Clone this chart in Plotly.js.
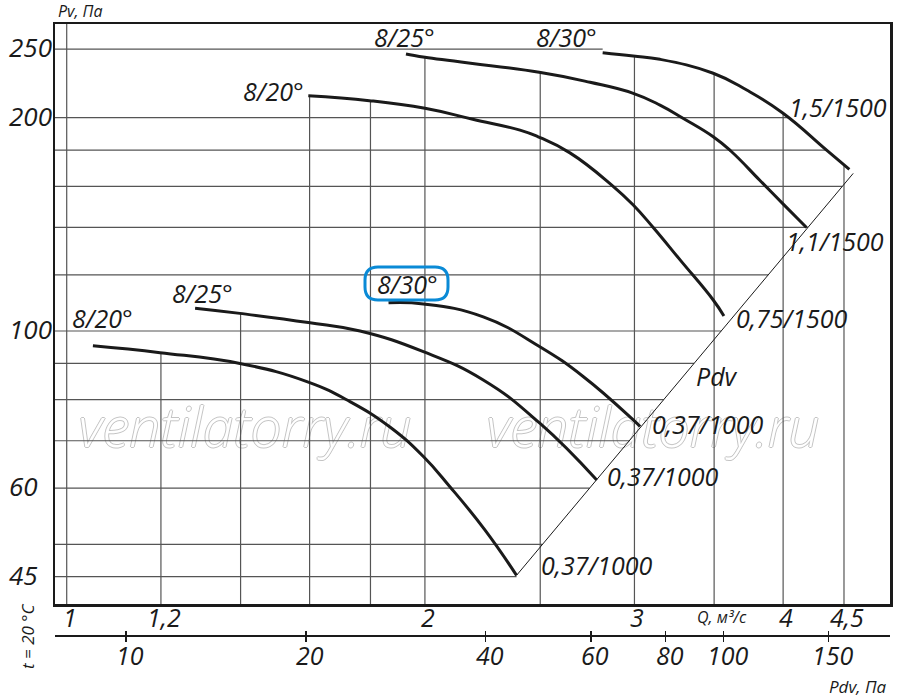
<!DOCTYPE html>
<html>
<head>
<meta charset="utf-8">
<script src="https://cdn.plot.ly/plotly-3.0.1.min.js"></script>
<style>html,body{margin:0;padding:0;background:#fff;}#chart{width:900px;height:697px;}</style>
</head>
<body>
<div id="chart"></div>
<script>
// ---------- data ----------
// upper group (1500 rpm)
const u20Q  = [1.596, 1.796, 2.0, 2.194, 2.404, 2.49, 2.648, 2.871, 2.993, 3.111, 3.277, 3.494, 3.567];
const u20Pv = [214.8, 211.4, 206.2, 199.0, 192.1, 188.0, 178.4, 160.7, 150.6, 140, 126.0, 110.6, 105.0];
const u25Q  = [1.928, 2.0, 2.495, 2.753, 2.993, 3.152, 3.298, 3.494, 3.615, 3.825, 3.997, 4.185];
const u25Pv = [246.0, 243.4, 231.8, 224.4, 216.5, 208.4, 199.5, 188.0, 179.5, 163.1, 151.3, 140];
const u30Q  = [2.821, 2.993, 3.152, 3.494, 3.728, 3.997, 4.351, 4.547];
const u30Pv = [247.1, 244.4, 241.8, 231.1, 218.8, 203.1, 180, 169.1];
// lower group (1000 rpm)
const l20Q  = [1.052, 1.198, 1.398, 1.596, 1.730, 1.869, 1.994, 2.099, 2.246, 2.388];
const l20Pv = [95.3, 93.2, 90.0, 84.7, 79.5, 73.2, 66.5, 60.3, 52.4, 45.2];
const l25Q  = [1.282, 1.398, 1.596, 1.764, 1.994, 2.239, 2.498, 2.789];
const l25Pv = [107.7, 105.9, 102.8, 100, 93.5, 85.3, 74.1, 61.6];
const l30Q  = [1.864, 1.994, 2.239, 2.498, 2.718, 2.993, 3.033];
const l30Pv = [109.6, 109.2, 104.7, 95.0, 86.2, 74.9, 73.3];
// dynamic pressure line Pdv
const diagQ  = [2.388, 4.581];
const diagPv = [45.2, 166.9];

// grid and tick values
const gridQ  = [1, 1.2, 1.4, 1.6, 1.8, 2, 2.5, 3, 3.5, 4, 4.5];
const gridPv = [45, 50, 60, 70, 80, 90, 100, 120, 140, 160, 180, 200, 250];
const qTicks  = [1, 1.2, 2, 3, 4, 4.5];
const qLabels = ['1', '1,2', '2', '3', '4', '4,5'];
const pvTicks  = [45, 60, 100, 200, 250];
const pvLabels = ['45', '60', '100', '200', '250'];
const pdvTicks  = [10, 20, 40, 60, 80, 100, 150];
const pdvLabels = ['10', '20', '40', '60', '80', '100', '150'];

// ---------- layout geometry ----------
const W = 900, H = 697;
const L = 55, R = 890, T = 24, B = 636, PB = 604;   // plot area (px)
const xr = [Math.log10(0.9776), Math.log10(4.919)];
const yr = [1.6147, 2.4333];
const x2r = [0.8812, 2.2785];
const fx = p => (p - L) / (R - L);
const fy = p => (B - p) / (B - T);

const FONT = 'Open Sans, Noto Sans, Liberation Sans, sans-serif';
const INK = '#1a1a1a';

const curves = [
  [u20Q, u20Pv], [u25Q, u25Pv], [u30Q, u30Pv],
  [l20Q, l20Pv], [l25Q, l25Pv], [l30Q, l30Pv]
];
const allLines = curves.concat([[diagQ, diagPv]]);

// log-log interpolation helpers (used only to clip grid lines)
function interpY(xs, ys, x) {
  if (x < xs[0] || x > xs[xs.length - 1]) return null;
  for (let i = 0; i < xs.length - 1; i++) {
    if (x >= xs[i] && x <= xs[i + 1]) {
      const t = (Math.log(x) - Math.log(xs[i])) / (Math.log(xs[i + 1]) - Math.log(xs[i]));
      return Math.exp(Math.log(ys[i]) + t * (Math.log(ys[i + 1]) - Math.log(ys[i])));
    }
  }
  return null;
}
function interpX(xs, ys, y) {
  const lo = Math.min(...ys), hi = Math.max(...ys);
  if (y < lo / 1.02 || y > hi * 1.02) return null;
  const yy = Math.min(Math.max(y, lo), hi);
  for (let i = 0; i < ys.length - 1; i++) {
    const a = ys[i], b = ys[i + 1];
    if ((yy - a) * (yy - b) <= 0) {
      const t = (Math.log(yy) - Math.log(a)) / (Math.log(b) - Math.log(a) || 1);
      return Math.exp(Math.log(xs[i]) + t * (Math.log(xs[i + 1]) - Math.log(xs[i])));
    }
  }
  return null;
}

const yBottom = Math.pow(10, yr[0]), yTop = Math.pow(10, yr[1]);
const xLeft = Math.pow(10, xr[0]);
const vgx = [], vgy = [];
gridQ.forEach(q => {
  let top = null;
  curves.forEach(c => { const v = interpY(c[0], c[1], q); if (v !== null && (top === null || v > top)) top = v; });
  if (top === null) top = yTop;
  vgx.push(q, q, null); vgy.push(yBottom, top, null);
});
const hgx = [], hgy = [];
gridPv.forEach(p => {
  let right = null;
  allLines.forEach(c => { const v = interpX(c[0], c[1], p); if (v !== null && (right === null || v > right)) right = v; });
  if (right === null) right = Math.pow(10, xr[1]);
  hgx.push(xLeft, right, null); hgy.push(p, p, null);
});

const traces = [];
// watermark (drawn first, under everything)
const wmQ = [Math.pow(10, xr[0] + fx(245) * (xr[1] - xr[0])), Math.pow(10, xr[0] + fx(653) * (xr[1] - xr[0]))];
const wmP = Math.pow(10, yr[0] + ((PB - 433) / (PB - T)) * (yr[1] - yr[0]));
traces.push({
  x: wmQ, y: [wmP, wmP], mode: 'text', text: ['ventilatorry.ru', 'ventilatorry.ru'],
  textposition: 'middle center', hoverinfo: 'skip', showlegend: false,
  textfont: {family: FONT, size: 55, style: 'italic', weight: 300, color: '#ffffff',
             shadow: '1px 0 0 #c4c4c4, -1px 0 0 #c4c4c4, 0 1px 0 #c4c4c4, 0 -1px 0 #c4c4c4'}
});
traces.push({x: vgx, y: vgy, mode: 'lines', line: {color: '#555', width: 1.2}, hoverinfo: 'skip', showlegend: false});
traces.push({x: hgx, y: hgy, mode: 'lines', line: {color: '#555', width: 1.2}, hoverinfo: 'skip', showlegend: false});
traces.push({x: diagQ, y: diagPv, mode: 'lines', line: {color: INK, width: 1}, hoverinfo: 'skip', showlegend: false});
curves.forEach(c => traces.push({
  x: c[0], y: c[1], mode: 'lines', line: {color: INK, width: 3, shape: 'spline', smoothing: 1.3},
  showlegend: false
}));
// helper traces to carry the Pdv axis
traces.push({x: pdvTicks, y: pdvTicks.map(() => null), xaxis: 'x2', yaxis: 'y', mode: 'markers', hoverinfo: 'skip', showlegend: false});
traces.push({x: pdvTicks, y: pdvTicks.map(() => null), xaxis: 'x3', yaxis: 'y', mode: 'markers', hoverinfo: 'skip', showlegend: false});

const big = {family: FONT, size: 25, style: 'italic', color: INK};
const mid = {family: FONT, size: 17, style: 'italic', color: INK};

function ann(text, px, py, font, extra) {
  return Object.assign({text: text, xref: 'paper', yref: 'paper', x: fx(px), y: fy(py),
    xanchor: 'center', yanchor: 'middle', showarrow: false, font: font}, extra || {});
}
const annotations = [
  ann('Pv, Па', 80, 11, {family: FONT, size: 16, style: 'italic', color: INK}),
  ann('8/25°', 404, 37, big),
  ann('8/30°', 566, 37, big),
  ann('8/20°', 273, 91, big),
  ann('8/30°', 407, 284, big),
  ann('8/25°', 202, 293, big),
  ann('8/20°', 102, 318, big),
  ann('1,5/1500', 838, 107, big),
  ann('1,1/1500', 835, 241, big),
  ann('0,75/1500', 792, 318, big),
  ann('Pdv', 717, 376, big),
  ann('0,37/1000', 708, 424, big),
  ann('0,37/1000', 663, 476, big),
  ann('0,37/1000', 597, 565, big),
  ann('Q, м³/с', 722, 617, {family: FONT, size: 16, style: 'italic', color: INK}),
  ann('Pdv, Па', 857, 686, mid),
  ann('t = 20 °C', 27, 636, mid, {textangle: -90})
];
// Pv tick labels (left aligned, as in the original)
pvTicks.forEach((v, i) => annotations.push({
  text: pvLabels[i], xref: 'paper', yref: 'y', x: fx(7), y: Math.log10(v),
  xanchor: 'left', yanchor: 'middle', yshift: 2, showarrow: false,
  font: {family: FONT, size: 26, style: 'italic', color: INK}
}));
// Q tick labels (on the main x axis)
qTicks.forEach((q, i) => annotations.push({
  text: qLabels[i], xref: 'x', yref: 'paper', x: Math.log10(q), y: fy(617),
  xanchor: 'center', yanchor: 'middle', xshift: 3, showarrow: false, font: big
}));
// Pdv tick labels (on the lower axis)
pdvTicks.forEach((v, i) => annotations.push({
  text: pdvLabels[i], xref: 'x2', yref: 'paper', x: Math.log10(v), y: fy(655),
  xanchor: 'center', yanchor: 'middle', xshift: 4, showarrow: false, font: big
}));

// rounded highlight around the middle 8/30° label
const bx0 = fx(365), bx1 = fx(448), by0 = fy(300), by1 = fy(267);
const rx = 13 / (R - L), ry = 13 / (B - T);
const boxPath = `M ${bx0 + rx},${by0} L ${bx1 - rx},${by0} Q ${bx1},${by0} ${bx1},${by0 + ry} L ${bx1},${by1 - ry} Q ${bx1},${by1} ${bx1 - rx},${by1} L ${bx0 + rx},${by1} Q ${bx0},${by1} ${bx0},${by1 - ry} L ${bx0},${by0 + ry} Q ${bx0},${by0} ${bx0 + rx},${by0} Z`;

const layout = {
  width: W, height: H,
  margin: {l: L, r: W - R, t: T, b: H - B, pad: 0},
  paper_bgcolor: '#fff', plot_bgcolor: '#fff',
  showlegend: false,
  xaxis: {type: 'log', range: xr, anchor: 'y', tickvals: qTicks, showticklabels: false, ticks: '',
          showgrid: false, zeroline: false, showline: true, mirror: true, linewidth: 2.5, linecolor: INK},
  yaxis: {type: 'log', range: yr, domain: [(B - PB) / (B - T), 1], tickvals: pvTicks, showticklabels: false, ticks: '',
          showgrid: false, zeroline: false, showline: true, mirror: true, linewidth: 2.5, linecolor: INK},
  xaxis2: {type: 'log', range: x2r, overlaying: 'x', anchor: 'free', position: 0, side: 'bottom',
           tickvals: pdvTicks, showticklabels: false, ticks: 'outside', ticklen: 5, tickwidth: 1.3, tickcolor: INK,
           showgrid: false, zeroline: false, showline: true, linewidth: 2, linecolor: INK},
  xaxis3: {type: 'log', range: x2r, overlaying: 'x', anchor: 'free', position: 0, side: 'bottom',
           tickvals: pdvTicks, ticks: 'inside', ticklen: 5, tickwidth: 1.3, tickcolor: INK,
           showticklabels: false, showgrid: false, zeroline: false, showline: false},
  annotations: annotations,
  shapes: [{type: 'path', xref: 'paper', yref: 'paper', path: boxPath, line: {color: '#0a8ad6', width: 3}}]
};

Plotly.newPlot('chart', traces, layout, {displayModeBar: false, staticPlot: true});
</script>
</body>
</html>
